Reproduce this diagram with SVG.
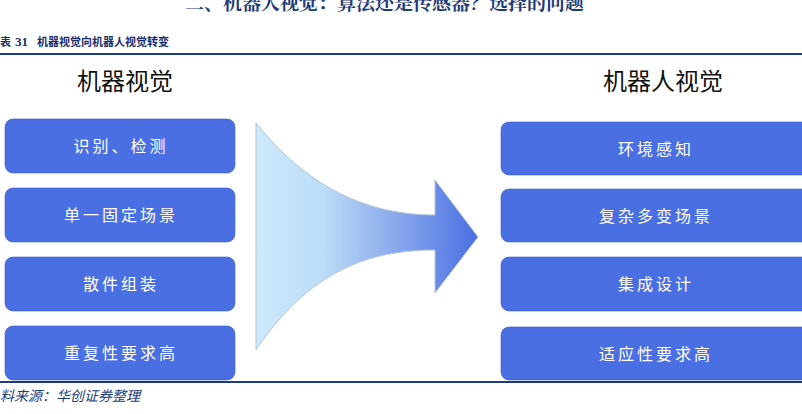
<svg xmlns="http://www.w3.org/2000/svg" width="802" height="414" viewBox="0 0 802 414">
<style>
.hdr{font-family:"Noto Serif CJK SC","Noto Sans CJK SC",serif;font-size:19px;fill:#1f3c7a;font-weight:bold}
.ttl{font-family:"Noto Sans CJK SC",serif;font-size:11px;fill:#1a2e6b;font-weight:bold}
.num{font-family:"Liberation Serif",serif;font-size:13px;fill:#1a2e6b;font-weight:bold}
.col{font-family:"Noto Sans CJK SC",sans-serif;font-size:24px;fill:#111;text-anchor:middle}
.box{fill:#4a6fe2;stroke:#3c5cc4;stroke-width:0.6}
.lbl{font-family:"Noto Sans CJK SC",sans-serif;font-size:16px;fill:#fff;text-anchor:middle;letter-spacing:3px}
.src{font-family:"Noto Sans CJK SC",sans-serif;font-size:14px;fill:#1f3c7a;font-style:italic}
.rule{stroke:#1f3c7a;stroke-width:2}
</style>
<defs>
<linearGradient id="g" x1="256" y1="0" x2="478" y2="0" gradientUnits="userSpaceOnUse">
<stop offset="0" stop-color="#cde9fc"/>
<stop offset="0.3" stop-color="#bcdcf7"/>
<stop offset="0.65" stop-color="#86a6ec"/>
<stop offset="1" stop-color="#4a6fe2"/>
</linearGradient>
</defs>
<text class="hdr" x="185" y="10">二、机器人视觉：算法还是传感器？选择的问题</text>
<text class="ttl" x="0" y="46">表</text>
<text class="num" x="15" y="46">31</text>
<text class="ttl" x="37" y="46">机器视觉向机器人视觉转变</text>
<line class="rule" x1="0" y1="54" x2="802" y2="54"/>
<text class="col" x="125" y="90">机器视觉</text>
<text class="col" x="663" y="90">机器人视觉</text>
<g id="arrow">
<path d="M256,123 C310,190 370,215 435,215 L435,180 L478,237 L435,293 L435,250 C370,250 310,270 256,350 Z" fill="url(#g)" stroke="#b8c4d4" stroke-width="1"/>
</g>
<g id="left">
<g id="l1"><rect class="box" x="5" y="119" width="230" height="54" rx="8"/><text class="lbl" x="121" y="152">识别、检测</text></g>
<g id="l2"><rect class="box" x="5" y="188" width="230" height="54" rx="8"/><text class="lbl" x="121" y="221">单一固定场景</text></g>
<g id="l3"><rect class="box" x="5" y="257" width="230" height="54" rx="8"/><text class="lbl" x="121" y="290">散件组装</text></g>
<g id="l4"><rect class="box" x="5" y="326" width="230" height="54" rx="8"/><text class="lbl" x="121" y="359">重复性要求高</text></g>
</g>
<g id="right">
<g id="r1"><rect class="box" x="501" y="122" width="310" height="53" rx="8"/><text class="lbl" x="656" y="155">环境感知</text></g>
<g id="r2"><rect class="box" x="501" y="189" width="310" height="53" rx="8"/><text class="lbl" x="656" y="222">复杂多变场景</text></g>
<g id="r3"><rect class="box" x="501" y="257" width="310" height="54" rx="8"/><text class="lbl" x="656" y="290">集成设计</text></g>
<g id="r4"><rect class="box" x="501" y="327" width="310" height="53" rx="8"/><text class="lbl" x="656" y="360">适应性要求高</text></g>
</g>
<g id="connectors"></g>
<line class="rule" x1="0" y1="382" x2="802" y2="382"/>
<text class="src" x="0" y="401">料来源：华创证券整理</text>
</svg>
